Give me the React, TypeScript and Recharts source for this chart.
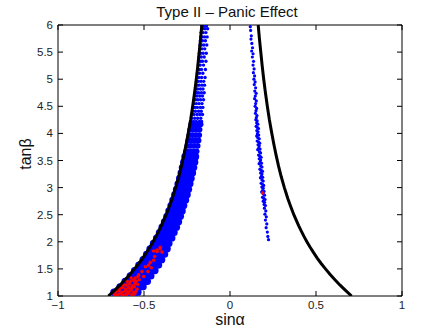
import React from "react";
import { ScatterChart, Scatter, XAxis, YAxis } from "recharts";

const FONT = '"Liberation Sans", Arial, Helvetica, sans-serif';

const xTicks = [-1, -0.5, 0, 0.5, 1];
const yTicks = [1, 1.5, 2, 2.5, 3, 3.5, 4, 4.5, 5, 5.5, 6];

const curveTan = [1.0, 1.1, 1.2, 1.3, 1.4, 1.5, 1.6, 1.7, 1.8, 1.9, 2.0, 2.1, 2.2, 2.3, 2.4, 2.5, 2.6, 2.7, 2.8, 2.9, 3.0, 3.2, 3.4, 3.6, 3.8, 4.0, 4.25, 4.5, 4.75, 5.0, 5.25, 5.5, 5.75, 6.0];
const curveSin = [0.707, 0.673, 0.64, 0.61, 0.581, 0.555, 0.53, 0.507, 0.486, 0.466, 0.447, 0.43, 0.414, 0.399, 0.385, 0.371, 0.359, 0.347, 0.336, 0.326, 0.316, 0.298, 0.282, 0.268, 0.255, 0.243, 0.229, 0.217, 0.206, 0.196, 0.187, 0.179, 0.171, 0.164];

// dense blue band along the left curve (rows of tan b, sin a values per row)
const bandTan = [1.07, 1.17, 1.27, 1.37, 1.47, 1.57, 1.67, 1.77, 1.87, 1.97, 2.07, 2.17, 2.27, 2.37, 2.47, 2.57, 2.67, 2.77, 2.87, 2.97, 3.07, 3.17, 3.27, 3.37, 3.47, 3.57, 3.67, 3.77, 3.87, 3.97, 4.07, 4.17];
const bandSin = [
  [-0.675, -0.645, -0.615, -0.585, -0.555, -0.535],
  [-0.64, -0.61, -0.58, -0.55, -0.52, -0.505],
  [-0.61, -0.58, -0.55, -0.52, -0.49, -0.48],
  [-0.58, -0.55, -0.52, -0.49, -0.46],
  [-0.555, -0.525, -0.495, -0.465, -0.436],
  [-0.53, -0.5, -0.47, -0.44, -0.415],
  [-0.505, -0.475, -0.445, -0.415, -0.397],
  [-0.485, -0.455, -0.425, -0.395, -0.38],
  [-0.465, -0.435, -0.405, -0.375, -0.365],
  [-0.445, -0.415, -0.385, -0.355],
  [-0.427, -0.397, -0.367, -0.338],
  [-0.41, -0.38, -0.35, -0.325],
  [-0.395, -0.365, -0.335, -0.311],
  [-0.381, -0.351, -0.321, -0.299],
  [-0.367, -0.337, -0.307, -0.288],
  [-0.355, -0.325, -0.3, -0.278],
  [-0.343, -0.313, -0.29, -0.269],
  [-0.332, -0.302, -0.28, -0.258],
  [-0.321, -0.295, -0.27, -0.249],
  [-0.311, -0.285, -0.262, -0.241],
  [-0.302, -0.278, -0.255, -0.233],
  [-0.293, -0.27, -0.248, -0.226],
  [-0.284, -0.262, -0.24, -0.218],
  [-0.277, -0.255, -0.233, -0.211],
  [-0.269, -0.247, -0.226, -0.205],
  [-0.262, -0.241, -0.22, -0.2],
  [-0.255, -0.235, -0.214, -0.194],
  [-0.248, -0.228, -0.208, -0.188],
  [-0.242, -0.222, -0.202, -0.183],
  [-0.236, -0.217, -0.198, -0.179],
  [-0.231, -0.213, -0.195, -0.177],
  [-0.225, -0.207, -0.189, -0.171],
];

// scattered blue points, upper part of left band [sin a, tan b]
const leftSparse: [number, number][] = [
  [-0.226, 4.22], [-0.212, 4.22], [-0.196, 4.22], [-0.178, 4.22], [-0.165, 4.22],
  [-0.222, 4.28], [-0.205, 4.28], [-0.188, 4.28], [-0.17, 4.28],
  [-0.22, 4.35], [-0.21, 4.35], [-0.192, 4.35], [-0.176, 4.35], [-0.16, 4.35],
  [-0.216, 4.41], [-0.201, 4.41], [-0.183, 4.41], [-0.167, 4.41],
  [-0.214, 4.48], [-0.204, 4.48], [-0.19, 4.48], [-0.172, 4.48], [-0.158, 4.48],
  [-0.211, 4.55], [-0.196, 4.55], [-0.18, 4.55], [-0.163, 4.55],
  [-0.208, 4.62], [-0.199, 4.62], [-0.186, 4.62], [-0.171, 4.62], [-0.154, 4.62],
  [-0.205, 4.69], [-0.192, 4.69], [-0.176, 4.69], [-0.16, 4.69],
  [-0.202, 4.75], [-0.194, 4.75], [-0.183, 4.75], [-0.166, 4.75], [-0.15, 4.75],
  [-0.199, 4.82], [-0.188, 4.82], [-0.172, 4.82], [-0.157, 4.82],
  [-0.197, 4.89], [-0.19, 4.89], [-0.179, 4.89], [-0.163, 4.89], [-0.148, 4.89],
  [-0.194, 4.96], [-0.184, 4.96], [-0.169, 4.96], [-0.153, 4.96],
  [-0.192, 5.03], [-0.181, 5.03], [-0.165, 5.03], [-0.145, 5.03],
  [-0.189, 5.11], [-0.177, 5.11], [-0.158, 5.11],
  [-0.187, 5.18], [-0.179, 5.18], [-0.166, 5.18], [-0.143, 5.18],
  [-0.184, 5.26], [-0.173, 5.26], [-0.154, 5.26],
  [-0.182, 5.33], [-0.17, 5.33], [-0.16, 5.33], [-0.14, 5.33],
  [-0.18, 5.41], [-0.167, 5.41], [-0.15, 5.41],
  [-0.178, 5.48], [-0.171, 5.48], [-0.156, 5.48], [-0.138, 5.48],
  [-0.176, 5.56], [-0.163, 5.56], [-0.147, 5.56],
  [-0.174, 5.63], [-0.166, 5.63], [-0.152, 5.63], [-0.135, 5.63],
  [-0.172, 5.71], [-0.16, 5.71], [-0.143, 5.71],
  [-0.17, 5.78], [-0.162, 5.78], [-0.148, 5.78], [-0.133, 5.78],
  [-0.168, 5.86], [-0.156, 5.86], [-0.14, 5.86],
  [-0.164, 5.93], [-0.158, 5.93], [-0.145, 5.93], [-0.13, 5.93],
  [-0.162, 5.98], [-0.152, 5.98], [-0.137, 5.98],
];

// thin blue strip right of zero
const rightStrip: [number, number][] = [
  [0.118, 5.97], [0.12, 5.9], [0.124, 5.8], [0.122, 5.74], [0.127, 5.66], [0.131, 5.58], [0.126, 5.52], [0.134, 5.47],
  [0.13, 5.41], [0.137, 5.33], [0.134, 5.26], [0.14, 5.19], [0.136, 5.12], [0.143, 5.06], [0.139, 5.0],
  [0.146, 4.95], [0.141, 4.9], [0.149, 4.84], [0.144, 4.78], [0.152, 4.74], [0.147, 4.69], [0.143, 4.64], [0.153, 4.6],
  [0.149, 4.55], [0.146, 4.5], [0.155, 4.46], [0.151, 4.42], [0.148, 4.37], [0.157, 4.33], [0.153, 4.29],
  [0.15, 4.25], [0.158, 4.23], [0.155, 4.19], [0.162, 4.17], [0.152, 4.13], [0.159, 4.11], [0.166, 4.09],
  [0.156, 4.05], [0.163, 4.03], [0.159, 3.99], [0.167, 3.97], [0.155, 3.95], [0.162, 3.92], [0.17, 3.9],
  [0.158, 3.86], [0.166, 3.84], [0.173, 3.82], [0.163, 3.79], [0.17, 3.77], [0.167, 3.73], [0.175, 3.71], [0.161, 3.7],
  [0.171, 3.66], [0.178, 3.64], [0.166, 3.6], [0.174, 3.58], [0.181, 3.56], [0.17, 3.53], [0.178, 3.51],
  [0.175, 3.47], [0.183, 3.45], [0.169, 3.44], [0.179, 3.4], [0.186, 3.38], [0.174, 3.34], [0.182, 3.32], [0.189, 3.3],
  [0.178, 3.27], [0.186, 3.25], [0.183, 3.21], [0.19, 3.19], [0.177, 3.18], [0.186, 3.14], [0.193, 3.12],
  [0.181, 3.08], [0.189, 3.06], [0.196, 3.04], [0.185, 3.01], [0.193, 2.99], [0.19, 2.95], [0.198, 2.93], [0.184, 2.92],
  [0.194, 2.88], [0.201, 2.86], [0.189, 2.82], [0.197, 2.8], [0.204, 2.78], [0.193, 2.75], [0.201, 2.73],
  [0.198, 2.69], [0.206, 2.67], [0.2, 2.62], [0.208, 2.57], [0.203, 2.51], [0.211, 2.46], [0.206, 2.4],
  [0.214, 2.33], [0.21, 2.26], [0.217, 2.18], [0.22, 2.1], [0.224, 2.04],
];

// red points
const redPts: [number, number][] = [
  [-0.672, 1.03], [-0.655, 1.02], [-0.64, 1.04], [-0.622, 1.02], [-0.604, 1.03], [-0.588, 1.05], [-0.57, 1.02], [-0.553, 1.04],
  [-0.662, 1.08], [-0.645, 1.1], [-0.628, 1.07], [-0.611, 1.09], [-0.594, 1.08], [-0.577, 1.1], [-0.56, 1.07], [-0.545, 1.09],
  [-0.64, 1.14], [-0.623, 1.16], [-0.606, 1.13], [-0.589, 1.15], [-0.572, 1.14], [-0.556, 1.17], [-0.54, 1.13],
  [-0.621, 1.21], [-0.604, 1.2], [-0.587, 1.22], [-0.57, 1.19], [-0.553, 1.23], [-0.536, 1.21],
  [-0.598, 1.27], [-0.58, 1.26], [-0.562, 1.29], [-0.545, 1.27], [-0.528, 1.3],
  [-0.575, 1.33], [-0.551, 1.33], [-0.535, 1.36],
  [-0.531, 1.39], [-0.502, 1.36], [-0.512, 1.45], [-0.477, 1.45], [-0.492, 1.54], [-0.458, 1.52], [-0.473, 1.57],
  [-0.463, 1.62], [-0.444, 1.66], [-0.438, 1.73], [-0.424, 1.82], [-0.395, 1.81], [-0.444, 1.83], [-0.424, 1.85],
  [-0.405, 1.87], [-0.405, 1.9],
  [0.19, 2.9],
];

const toPts = (arr: [number, number][]) => arr.map(([x, y]) => ({ x, y }));
const bandData = bandTan.flatMap((t, i) => bandSin[i].map((x) => ({ x, y: t })));
const bandLow = bandData.filter((p) => p.y < 3.6);
const bandHigh = bandData.filter((p) => p.y >= 3.6);
const leftCurve = curveTan.map((t, i) => ({ x: -curveSin[i], y: t }));
const rightCurve = curveTan.map((t, i) => ({ x: curveSin[i], y: t }));

const dot = (r: number, fill: string) => (p: any) => <circle cx={p.cx} cy={p.cy} r={r} fill={fill} />;
const noDot = () => <g />;
const fmt = (v: number) => (v < 0 ? "\u2212" + Math.abs(v) : String(v));
const tickStyle = { fontSize: 11.5, fill: "#222", fontFamily: FONT };

export default function App() {
  return (
    <div style={{ position: "absolute", left: 0, top: 0, width: 444, height: 334, background: "#fff", fontFamily: FONT }}>
      <ScatterChart width={444} height={334} margin={{ top: 24, right: 41, bottom: 0, left: 0 }}>
        <XAxis type="number" dataKey="x" domain={[-1, 1]} ticks={xTicks} height={38} tickSize={-5} tickMargin={10}
          tickFormatter={fmt} tick={tickStyle} stroke="#000" allowDataOverflow />
        <YAxis type="number" dataKey="y" domain={[1, 6]} ticks={yTicks} width={58} tickSize={-5} tickMargin={10}
          tick={tickStyle} stroke="#000" allowDataOverflow />
        <XAxis xAxisId="top" orientation="top" type="number" dataKey="x" domain={[-1, 1]} ticks={xTicks} height={1}
          tickSize={-5} tickFormatter={() => ""} stroke="#000" allowDataOverflow />
        <YAxis yAxisId="right" orientation="right" type="number" dataKey="y" domain={[1, 6]} ticks={yTicks} width={1}
          tickSize={-5} tickFormatter={() => ""} stroke="#000" allowDataOverflow />

        <Scatter data={bandLow} shape={dot(3.6, "#0000ff")} isAnimationActive={false} />
        <Scatter data={bandHigh} shape={dot(2.9, "#0000ff")} isAnimationActive={false} />
        <Scatter data={toPts(leftSparse)} shape={dot(1.7, "#0000ff")} isAnimationActive={false} />
        <Scatter data={toPts(rightStrip)} shape={dot(1.6, "#0000ff")} isAnimationActive={false} />
        <Scatter data={toPts(redPts)} shape={dot(1.8, "#ff0000")} isAnimationActive={false} />
        <Scatter data={leftCurve} shape={noDot} line={{ stroke: "#000", strokeWidth: 3 }} lineType="joint" isAnimationActive={false} />
        <Scatter data={rightCurve} xAxisId="top" yAxisId="right" shape={noDot} line={{ stroke: "#000", strokeWidth: 3 }}
          lineType="joint" isAnimationActive={false} />
      </ScatterChart>

      <div style={{ position: "absolute", left: 127, top: 4, width: 200, textAlign: "center", fontSize: 15, lineHeight: "15px", color: "#111" }}>
        Type II – Panic Effect
      </div>
      <div style={{ position: "absolute", left: 180, top: 315, width: 100, textAlign: "center", fontSize: 16, lineHeight: "10px", color: "#111" }}>
        sinα
      </div>
      <div style={{ position: "absolute", left: -4, top: 144, width: 60, textAlign: "center", fontSize: 16, lineHeight: "20px", color: "#111", transform: "rotate(-90deg)" }}>
        tanβ
      </div>
    </div>
  );
}
